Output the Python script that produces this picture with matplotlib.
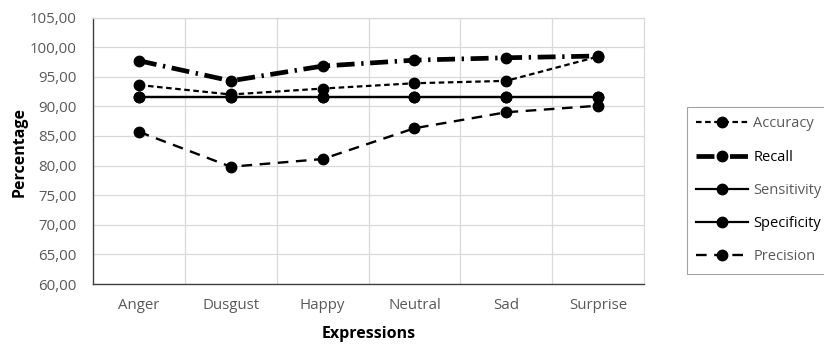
import matplotlib
matplotlib.use("Agg")
import matplotlib.pyplot as plt
from matplotlib.ticker import FuncFormatter, FixedLocator

categories = ["Anger", "Dusgust", "Happy", "Neutral", "Sad", "Surprise"]
accuracy = [93.6, 92.0, 93.0, 93.9, 94.3, 98.4]
recall = [97.7, 94.3, 96.8, 97.8, 98.2, 98.5]
sensitivity = [91.6, 91.6, 91.6, 91.6, 91.6, 91.6]
specificity = [91.6, 91.6, 91.6, 91.6, 91.6, 91.6]
precision = [85.7, 79.8, 81.1, 86.3, 89.0, 90.1]
series_names = ["Accuracy", "Recall", "Sensitivity", "Specificity", "Precision"]
yticks = [60, 65, 70, 75, 80, 85, 90, 95, 100, 105]

plt.rcParams['font.family'] = ['Open Sans', 'DejaVu Sans']

W, H = 824, 347
fig = plt.figure(figsize=(W / 100, H / 100), dpi=100)
ax = fig.add_axes([93 / W, 63 / H, (644 - 93) / W, (284 - 17.5) / H])

x = list(range(len(categories)))
ms = 7.5
h_acc, = ax.plot(x, accuracy, color="black", lw=1.6, dashes=(2.5, 1.6), marker="o", ms=ms)
h_rec, = ax.plot(x, recall, color="black", lw=3.4, dashes=(3.8, 1.4, 0.5, 1.4), marker="o", ms=ms)
h_sen, = ax.plot(x, sensitivity, color="black", lw=1.6, ls="-", marker="o", ms=ms)
h_spe, = ax.plot(x, specificity, color="black", lw=1.6, ls="-", marker="o", ms=ms)
h_pre, = ax.plot(x, precision, color="black", lw=1.7, dashes=(4.5, 3.2), marker="o", ms=ms)

ax.set_xlim(-0.5, len(categories) - 0.5)
ax.set_ylim(60, 105)
ax.set_yticks(yticks)
ax.yaxis.set_major_formatter(FuncFormatter(lambda v, p: f"{v:.2f}".replace(".", ",")))
ax.set_xticks(x)
ax.set_xticklabels(categories)
ax.xaxis.set_minor_locator(FixedLocator([i + 0.5 for i in range(len(categories) - 1)]))
ax.grid(True, which="major", axis="y", color="#d9d9d9", lw=0.9)
ax.grid(True, which="minor", axis="x", color="#d9d9d9", lw=0.9)
ax.set_axisbelow(True)
ax.tick_params(axis="both", which="both", length=0, colors="#595959", labelsize=10.8)
ax.tick_params(axis="x", pad=10)
ax.tick_params(axis="y", pad=12)
for s in ["left", "bottom"]:
    ax.spines[s].set_color("#404040")
    ax.spines[s].set_linewidth(1.0)
for s in ["top", "right"]:
    ax.spines[s].set_color("#d9d9d9")
    ax.spines[s].set_linewidth(0.9)

fig.text(20 / W, 1 - 152 / H, "Percentage", rotation=90, ha="center", va="center",
         fontsize=11.5, fontweight="bold", color="black")
fig.text(369 / W, 1 - 334 / H, "Expressions", ha="center", va="center",
         fontsize=11.5, fontweight="bold", color="black")

leg = fig.legend([h_acc, h_rec, h_sen, h_spe, h_pre], series_names,
                 loc="upper left", bbox_to_anchor=(687 / W, 1 - 107 / H),
                 borderaxespad=0, frameon=True, fancybox=False,
                 fontsize=10.5, labelspacing=1.25, handlelength=3.5,
                 handletextpad=0.4, borderpad=0.65)
leg.get_frame().set_edgecolor("#8c8c8c")
leg.get_frame().set_linewidth(0.8)
cols = ["#595959", "black", "#595959", "black", "#595959"]
for t, c in zip(leg.get_texts(), cols):
    t.set_color(c)

fig.savefig("out.png", dpi=100)
